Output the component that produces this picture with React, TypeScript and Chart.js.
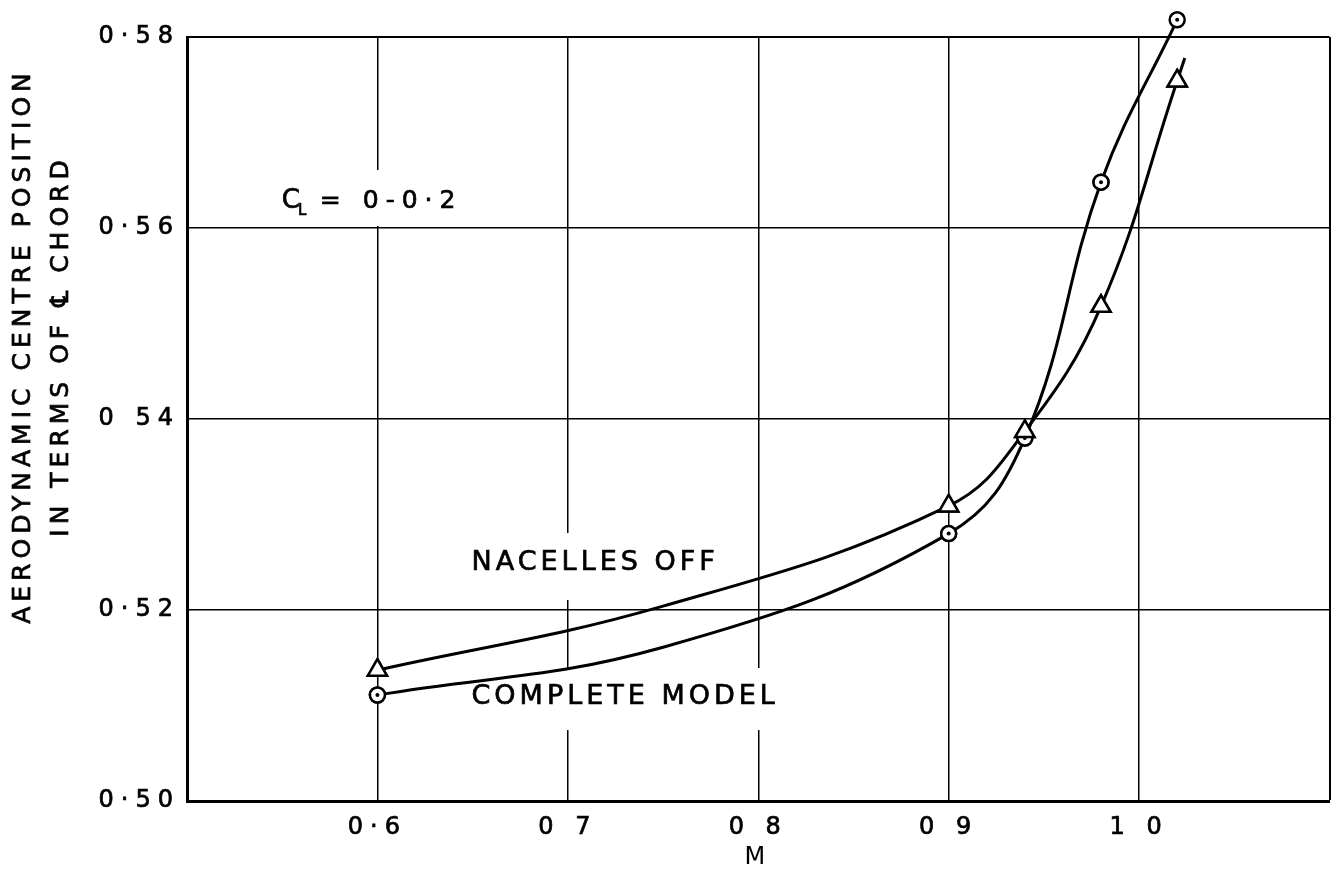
import React, { useEffect, useRef } from 'react';
import { Chart, registerables } from 'chart.js';

Chart.register(...registerables);

// ---- Data (read off the drawing; points without a marker are read from the drawn curve) ----
const completeMach = [0.6, 0.75, 0.9, 0.94, 0.98, 1.02];
const completeModel = [0.5111, 0.5161, 0.528, 0.538, 0.5648, 0.5818];
const completeMarked = [true, false, true, true, true, true];
const nacellesMach = [0.6, 0.75, 0.9, 0.94, 0.98, 1.02, 1.024];
const nacellesOff = [0.5137, 0.5204, 0.5309, 0.5387, 0.5518, 0.5754, 0.5778];
const nacellesMarked = [true, false, true, true, true, true, false];

const xTickValues = [0.6, 0.7, 0.8, 0.9, 1.0];
const xTickLabels = ['0·6', '0 7', '0 8', '0 9', '1 0'];
const yTickValues = [0.5, 0.52, 0.54, 0.56, 0.58];
const yTickLabels = ['0·50', '0·52', '0 54', '0·56', '0·58'];

const seriesNames = ['COMPLETE MODEL', 'NACELLES OFF'];
const yTitleLines = ['AERODYNAMIC CENTRE POSITION', 'IN TERMS OF \u2104 CHORD'];
const xTitle = 'M';
const clMain = 'C';
const clSub = 'L';
const clRest = '= 0-0·2';

const FONT = '"DejaVu Sans", "Liberation Sans", sans-serif';
const INK = '#000';

function lookup(values: number[], labels: string[], v: number) {
  const i = values.findIndex((t) => Math.abs(t - v) < 1e-6);
  return i >= 0 ? labels[i] : '';
}

function inkText(ctx: CanvasRenderingContext2D, text: string, x: number, y: number) {
  ctx.fillText(text, x, y);
  ctx.strokeText(text, x, y);
}

const annotationPlugin = {
  id: 'drawingAnnotations',
  beforeDraw(chart: any) {
    chart.ctx.letterSpacing = '7px';
  },
  beforeDatasetsDraw(chart: any, _args: any, opts: any) {
    const { ctx, scales } = chart;
    const x = scales.x;
    const y = scales.y;
    ctx.save();
    // white patches behind labels (the drawing interrupts grid lines there)
    ctx.fillStyle = '#fff';
    for (const b of opts.boxes) {
      const x0 = x.getPixelForValue(b.x0);
      const x1 = x.getPixelForValue(b.x1);
      const y0 = y.getPixelForValue(b.y0);
      const y1 = y.getPixelForValue(b.y1);
      ctx.fillRect(x0, y0, x1 - x0, y1 - y0);
    }
    ctx.fillStyle = INK;
    ctx.strokeStyle = INK;
    ctx.lineWidth = 0.7;
    ctx.textAlign = 'left';
    ctx.textBaseline = 'middle';
    ctx.font = `27px ${FONT}`;
    ctx.letterSpacing = '4px';
    for (const t of opts.texts) {
      inkText(ctx, t.text, x.getPixelForValue(t.x), y.getPixelForValue(t.y));
    }
    // C_L = 0-0.2
    const cx = x.getPixelForValue(opts.cl.x);
    const cy = y.getPixelForValue(opts.cl.y);
    ctx.font = `26px ${FONT}`;
    ctx.letterSpacing = '0px';
    inkText(ctx, clMain, cx, cy);
    const wC = ctx.measureText(clMain).width;
    ctx.font = `15px ${FONT}`;
    inkText(ctx, clSub, cx + wC - 2, cy + 10);
    ctx.font = `25px ${FONT}`;
    ctx.letterSpacing = '7px';
    inkText(ctx, clRest, cx + 38, cy);
    ctx.restore();
  },
  afterDatasetsDraw(chart: any) {
    const { ctx } = chart;
    const whole = { left: 0, top: 0, right: chart.width, bottom: chart.height };
    ctx.save();
    // markers that sit above the frame (the drawing lets them overrun it)
    chart.data.datasets.forEach((_: any, di: number) => {
      const meta = chart.getDatasetMeta(di);
      for (const p of meta.data) p.draw(ctx, whole);
    });
    // centre dots of the circle markers
    const meta0 = chart.getDatasetMeta(0);
    ctx.fillStyle = INK;
    meta0.data.forEach((p: any, i: number) => {
      if (!completeMarked[i]) return;
      ctx.beginPath();
      ctx.arc(p.x, p.y, 2, 0, Math.PI * 2);
      ctx.fill();
    });
    ctx.restore();
  },
  afterDraw(chart: any, _args: any, opts: any) {
    const { ctx } = chart;
    ctx.save();
    ctx.fillStyle = INK;
    ctx.strokeStyle = INK;
    ctx.lineWidth = 0.7;
    ctx.font = `25px ${FONT}`;
    ctx.letterSpacing = '5px';
    ctx.textAlign = 'center';
    ctx.textBaseline = 'middle';
    yTitleLines.forEach((line, i) => {
      ctx.save();
      ctx.translate(opts.yTitle.x[i], opts.yTitle.cy);
      ctx.rotate(-Math.PI / 2);
      inkText(ctx, line, 0, 0);
      ctx.restore();
    });
    ctx.restore();
  },
};

export default function App() {
  const canvasRef = useRef<HTMLCanvasElement | null>(null);

  useEffect(() => {
    if (!canvasRef.current) return;
    const edgeWidth = (v: number, lo: number, hi: number) =>
      Math.abs(v - lo) < 1e-6 ? 0 : Math.abs(v - hi) < 1e-6 ? 2 : 1.5;

    const chart = new Chart(canvasRef.current, {
      type: 'line',
      data: {
        datasets: [
          {
            label: seriesNames[0],
            data: completeMach.map((m, i) => ({ x: m, y: completeModel[i] })),
            borderColor: INK,
            borderWidth: 3,
            tension: 0.4,
            pointStyle: 'circle',
            pointRadius: completeMarked.map((k) => (k ? 7.5 : 0)),
            pointBorderWidth: 2.5,
            pointBackgroundColor: '#fff',
            pointBorderColor: INK,
            clip: false,
          },
          {
            label: seriesNames[1],
            data: nacellesMach.map((m, i) => ({ x: m, y: nacellesOff[i] })),
            borderColor: INK,
            borderWidth: 3,
            tension: 0.4,
            pointStyle: 'triangle',
            pointRadius: nacellesMarked.map((k) => (k ? 11 : 0)),
            pointBorderWidth: 2.5,
            pointBackgroundColor: '#fff',
            pointBorderColor: INK,
            clip: false,
          },
        ],
      },
      options: {
        animation: false,
        responsive: true,
        maintainAspectRatio: false,
        layout: { padding: { top: 37, right: 12, left: 0, bottom: 0 } },
        plugins: {
          legend: { display: false },
          tooltip: { enabled: false },
          drawingAnnotations: {
            boxes: [
              { x0: 0.5446, x1: 0.6458, y0: 0.56607, y1: 0.56021 },
              { x0: 0.6442, x1: 0.7837, y0: 0.52806, y1: 0.52105 },
              { x0: 0.6442, x1: 0.8136, y0: 0.51393, y1: 0.50743 },
            ],
            texts: [
              { text: seriesNames[1], x: 0.6494, y: 0.52492 },
              { text: seriesNames[0], x: 0.6494, y: 0.51089 },
            ],
            cl: { x: 0.5498, y: 0.5628 },
            yTitle: { x: [23, 61], cy: 346 },
          },
        } as any,
        scales: {
          x: {
            type: 'linear',
            min: 0.5,
            max: 1.1,
            afterFit: (s: any) => {
              s.height = 72;
            },
            ticks: {
              stepSize: 0.1,
              autoSkip: false,
              maxRotation: 0,
              padding: 12,
              color: INK,
              textStrokeColor: INK,
              textStrokeWidth: 0.7,
              font: { family: FONT, size: 24 },
              callback: (v: any) => lookup(xTickValues, xTickLabels, Number(v)),
            },
            grid: {
              color: INK,
              drawTicks: false,
              lineWidth: (c: any) => edgeWidth(c.tick ? c.tick.value : 0, 0.5, 1.1),
            },
            border: { color: INK, width: 3 },
            title: {
              display: true,
              text: xTitle,
              color: INK,
              font: { family: FONT, size: 24 },
              padding: { top: 0, bottom: 1 },
            },
          },
          y: {
            type: 'linear',
            min: 0.5,
            max: 0.58,
            afterFit: (s: any) => {
              s.width = 187;
            },
            ticks: {
              stepSize: 0.02,
              autoSkip: false,
              padding: 7,
              color: INK,
              textStrokeColor: INK,
              textStrokeWidth: 0.7,
              font: { family: FONT, size: 24 },
              callback: (v: any) => lookup(yTickValues, yTickLabels, Number(v)),
            },
            grid: {
              color: INK,
              drawTicks: false,
              lineWidth: (c: any) => edgeWidth(c.tick ? c.tick.value : 0, 0.5, 0.58),
            },
            border: { color: INK, width: 3 },
          },
        },
      },
      plugins: [annotationPlugin as any],
    });
    return () => chart.destroy();
  }, []);

  return (
    <div
      style={{
        position: 'fixed',
        left: 0,
        top: 0,
        width: '1343px',
        height: '873px',
        background: '#fff',
      }}
    >
      <canvas ref={canvasRef} />
    </div>
  );
}
